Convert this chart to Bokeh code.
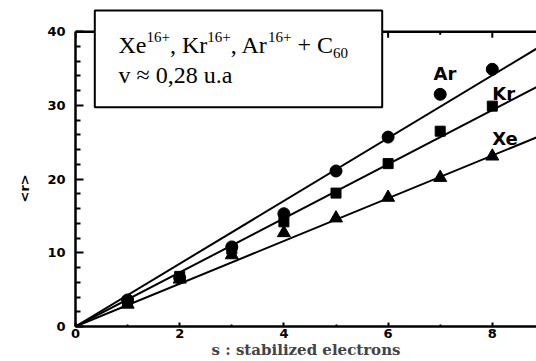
from bokeh.plotting import figure
from bokeh.models import FixedTicker, Range1d, Title
from bokeh.core.properties import value
from bokeh.embed import file_html
from bokeh.resources import INLINE

# ---- data ----
s_vals = [1, 2, 3, 4, 5, 6, 7, 8]
ar_r = [3.6, 6.6, 10.8, 15.3, 21.1, 25.7, 31.5, 34.9]
kr_r = [3.3, 6.8, 10.5, 14.2, 18.1, 22.1, 26.5, 29.9]
xe_r = [3.0, 6.4, 9.7, 12.7, 14.7, 17.5, 20.2, 23.1]

fit_x = [0, 10]
ar_fit = [0, 42.6]
kr_fit = [0, 36.7]
xe_fit = [0, 29.0]

x_major = [0, 2, 4, 6, 8]
x_minor = [1, 3, 5, 7]
y_major = [0, 10, 20, 30, 40]
y_minor = [2, 4, 6, 8, 12, 14, 16, 18, 22, 24, 26, 28, 32, 34, 36, 38]

series_labels = ["Ar", "Kr", "Xe"]

# ---- layout constants (pixels) ----
W, H = 536, 361
BL, BB = 75, 35
FW, FH = W - BL, H - BB
PX_X = 52.1   # px per x unit
PX_Y = 7.37   # px per y unit
X_END = FW / PX_X
Y_END = FH / PX_Y

# canvas pixel -> data
def dx(px):
    return (px - BL) / PX_X

def dy(py):
    return (FH - py) / PX_Y

p = figure(width=W, height=H, output_backend="svg", toolbar_location=None,
           x_range=Range1d(0, X_END), y_range=Range1d(0, Y_END),
           min_border_left=BL, min_border_right=0, min_border_top=0,
           min_border_bottom=BB, background_fill_color="white",
           border_fill_color="white")
p.outline_line_color = None
p.grid.visible = False

for ax in (p.xaxis[0], p.yaxis[0]):
    ax.axis_line_width = 2.5
    ax.axis_line_color = "black"
    ax.major_tick_line_width = 2
    ax.minor_tick_line_width = 2
    ax.major_tick_out = 0
    ax.minor_tick_out = 0
    ax.major_label_text_font = "DejaVu Sans"
    ax.major_label_text_font_style = "bold"
    ax.major_label_text_font_size = "13px"
    ax.major_label_text_color = "black"

p.xaxis.ticker = FixedTicker(ticks=x_major, minor_ticks=x_minor)
p.yaxis.ticker = FixedTicker(ticks=y_major, minor_ticks=y_minor)
p.yaxis.bounds = (0, 40)
p.xaxis.major_tick_in = 4
p.xaxis.minor_tick_in = 2
p.yaxis.major_tick_in = 8
p.yaxis.minor_tick_in = 5
p.xaxis.major_label_standoff = 2
p.yaxis.major_label_standoff = 10

p.xaxis.axis_label = "s : stabilized electrons"
p.xaxis.axis_label_text_font = "DejaVu Serif"
p.xaxis.axis_label_text_font_style = "bold"
p.xaxis.axis_label_text_font_size = "15px"
p.xaxis.axis_label_standoff = 0

ylab = Title(text="<r>", align="left", offset=124, standoff=25,
             text_font="DejaVu Sans", text_font_style="bold",
             text_font_size="13px", text_color="black")
p.add_layout(ylab, "left")

# top axis line and ticks
p.segment(x0=[0], y0=[40], x1=[X_END], y1=[40], line_width=2.5, line_color="black")
p.segment(x0=x_major, y0=[40] * len(x_major), x1=x_major,
          y1=[40 - 6 / PX_Y] * len(x_major), line_width=2, line_color="black")
p.segment(x0=x_minor, y0=[40] * len(x_minor), x1=x_minor,
          y1=[40 - 3 / PX_Y] * len(x_minor), line_width=2, line_color="black")

# fit lines
for fy in (ar_fit, kr_fit, xe_fit):
    p.line(fit_x, fy, line_width=2, line_color="black")

# points
p.scatter(s_vals, xe_r, marker="triangle", size=13, color="black")
p.scatter(s_vals, kr_r, marker="square", size=10, color="black")
p.scatter(s_vals, ar_r, marker="circle", size=12, color="black")

# series labels
p.text(x=[dx(433), dx(491.7), dx(491.7)], y=[dy(73), dy(93.3), dy(138.3)],
       text=series_labels, text_font=value("DejaVu Sans"), text_font_style="bold",
       text_font_size="18px", text_baseline="alphabetic", text_align="left",
       text_color="black")

# annotation box
p.quad(left=[dx(94.3)], right=[dx(381.7)], top=[dy(10)], bottom=[dy(106.7)],
       fill_color="white", line_color="black", line_width=2)

main_pieces = ["Xe", ", Kr", ", Ar", "+", "C", "v \u2248 0,28 u.a"]
main_px = [118, 169.5, 230.3, 297, 316.6, 118]
main_py = [44, 44, 44, 44, 44, 74.5]
p.text(x=[dx(v) for v in main_px], y=[dy(v) for v in main_py], text=main_pieces,
       text_font=value("Liberation Serif"), text_font_size="24px",
       text_baseline="alphabetic", text_align="left", text_color="black")

small_pieces = ["16+", "16+", "16+", "60"]
small_px = [146, 206.8, 267.6, 332.6]
small_py = [36.5, 36.5, 36.5, 52.5]
p.text(x=[dx(v) for v in small_px], y=[dy(v) for v in small_py], text=small_pieces,
       text_font=value("Liberation Serif"), text_font_size="15px",
       text_baseline="alphabetic", text_align="left", text_color="black")

open("out.html", "w").write(file_html(p, INLINE))
